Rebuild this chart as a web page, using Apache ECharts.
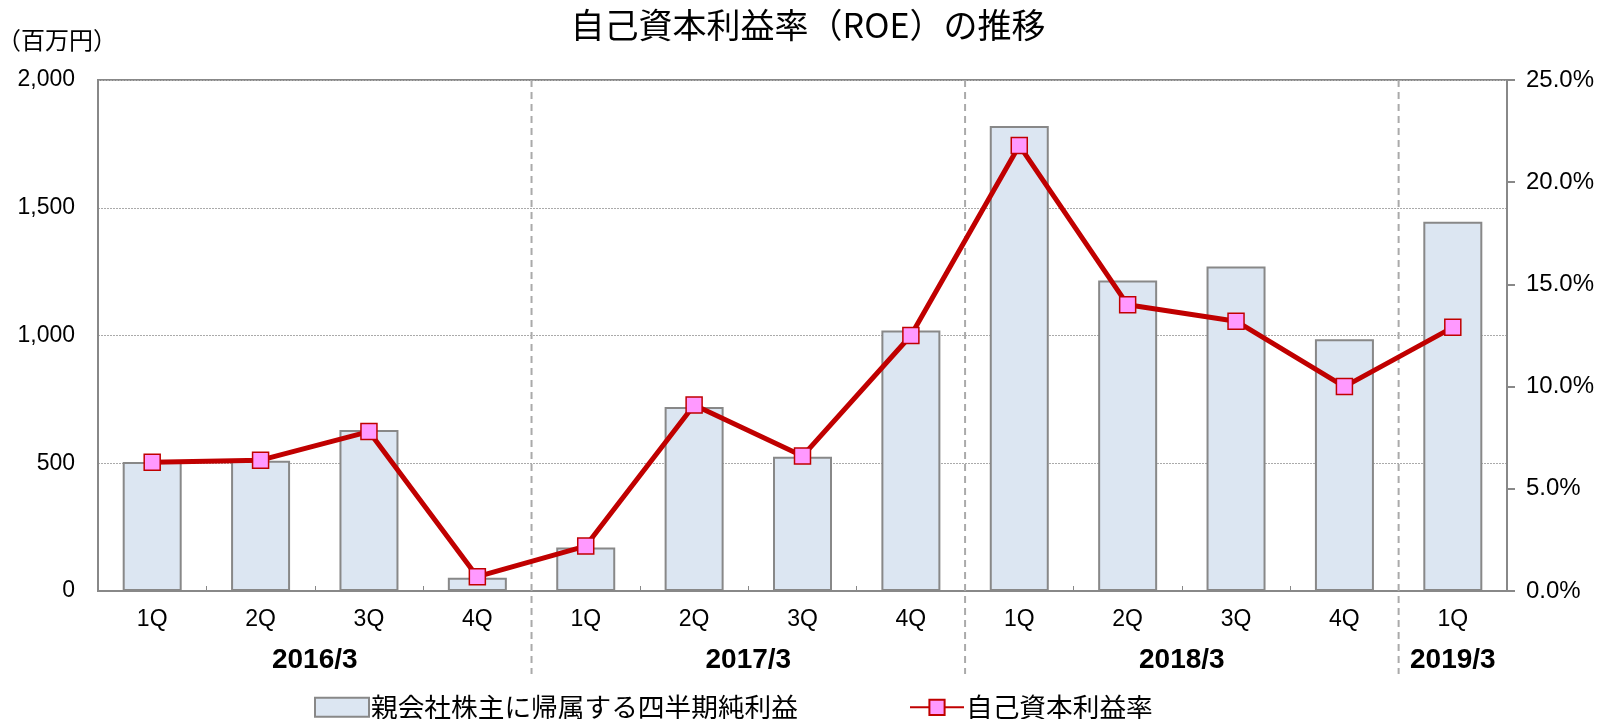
<!DOCTYPE html>
<html><head><meta charset="utf-8">
<script src="https://cdn.jsdelivr.net/npm/echarts@6/dist/echarts.min.js"></script>
<style>html,body{margin:0;padding:0;background:#fff}#c{width:1616px;height:719px}</style>
</head><body><div id="c"></div>
<script>
const categories = ['1Q','2Q','3Q','4Q','1Q','2Q','3Q','4Q','1Q','2Q','3Q','4Q','1Q'];
const fiscalYears = ['2016/3','2017/3','2018/3','2019/3'];
const yearGroupSize = [4, 4, 4, 1];
const netIncome = [505, 510, 630, 52, 170, 720, 525, 1020, 1820, 1215, 1270, 985, 1445];
const roe = [6.3, 6.4, 7.8, 0.7, 2.2, 9.1, 6.6, 12.5, 21.8, 14.0, 13.2, 10.0, 12.9];
const barName = '親会社株主に帰属する四半期純利益';
const lineName = '自己資本利益率';
const titleText = '自己資本利益率（ROE）の推移';
const unitText = '（百万円）';

const JP = '"Noto Sans CJK JP", "Liberation Sans", sans-serif';
const NUM = '"Liberation Sans", Arial, sans-serif';
const chart = echarts.init(document.getElementById('c'), null, {renderer: 'canvas'});

const option = {
  animation: false,
  backgroundColor: '#fff',
  title: {
    text: titleText, left: 'center', top: 3,
    textStyle: {fontFamily: JP, fontSize: 34, fontWeight: 'normal', color: '#000'}
  },
  grid: {left: 98, right: 109, top: 80, bottom: 128, show: true, borderColor: '#888', borderWidth: 2, backgroundColor: 'transparent'},
  legend: [
    {data: [{name: barName, icon: 'rect'}], left: 309, top: 689, itemWidth: 54, itemHeight: 19,
     textStyle: {fontFamily: JP, fontSize: 26.7, color: '#000', padding: [0,0,0,-3]}},
    {data: [lineName], left: 904, top: 689, itemWidth: 54, itemHeight: 19,
     textStyle: {fontFamily: JP, fontSize: 26.7, color: '#000', padding: [0,0,0,-3]}}
  ],
  xAxis: {
    type: 'category', data: categories, boundaryGap: true,
    axisLine: {lineStyle: {color: '#888', width: 2}},
    axisTick: {show: true, inside: true, length: 5, lineStyle: {color: '#888', width: 1}},
    axisLabel: {fontFamily: NUM, fontSize: 23, color: '#000', margin: 17},
    splitLine: {show: false}
  },
  yAxis: [
    {type: 'value', min: 0, max: 2000, interval: 500,
     axisLine: {show: true, lineStyle: {color: '#888', width: 2}},
     axisTick: {show: false},
     axisLabel: {fontFamily: NUM, fontSize: 23, color: '#000', margin: 23,
                 formatter: v => v.toLocaleString('en-US')},
     splitLine: {show: true, lineStyle: {color: '#aaa', type: [2, 1], width: 1}}},
    {type: 'value', min: 0, max: 25, interval: 5, position: 'right',
     axisLine: {show: true, lineStyle: {color: '#888', width: 2}},
     axisTick: {show: true, inside: false, length: 8, lineStyle: {color: '#888', width: 2}},
     axisLabel: {fontFamily: NUM, fontSize: 24, color: '#000', margin: 19,
                 formatter: v => v.toFixed(1) + '%'},
     splitLine: {show: false}}
  ],
  series: [
    {name: barName, type: 'bar', data: netIncome, yAxisIndex: 0, barWidth: 59,
     itemStyle: {color: '#dce6f2', borderColor: '#888', borderWidth: 2}},
    {name: lineName, type: 'line', data: roe, yAxisIndex: 1,
     symbol: 'rect', symbolSize: 16,
     lineStyle: {color: '#c00000', width: 5},
     itemStyle: {color: '#ff99ff', borderColor: '#c00000', borderWidth: 1.5},
     z: 5}
  ]
};
chart.setOption(option);

// separators and fiscal year labels positioned from the axis scale
const px = i => chart.convertToPixel({xAxisIndex: 0}, i);
const yTop = chart.convertToPixel({yAxisIndex: 0}, 2000);
const graphics = [];
graphics.push({type: 'text', x: -3, y: 40,
  style: {text: unitText, font: '24px ' + JP, fill: '#000', verticalAlign: 'middle'}});
let start = 0;
fiscalYears.forEach((fy, g) => {
  const end = start + yearGroupSize[g] - 1;
  const cx = (px(start) + px(end)) / 2;
  graphics.push({type: 'text', x: cx, y: 660,
    style: {text: fy, font: 'bold 28px "Liberation Sans", Arial, sans-serif', fill: '#000', align: 'center', verticalAlign: 'middle'}});
  if (g > 0) {
    const bx = (px(start - 1) + px(start)) / 2;
    graphics.push({type: 'line', shape: {x1: bx, y1: yTop, x2: bx, y2: 674},
      style: {stroke: '#aaa', lineWidth: 2, lineDash: [7, 5]}, z: 1});
  }
  start = end + 1;
});
chart.setOption({graphic: graphics});
</script></body></html>
